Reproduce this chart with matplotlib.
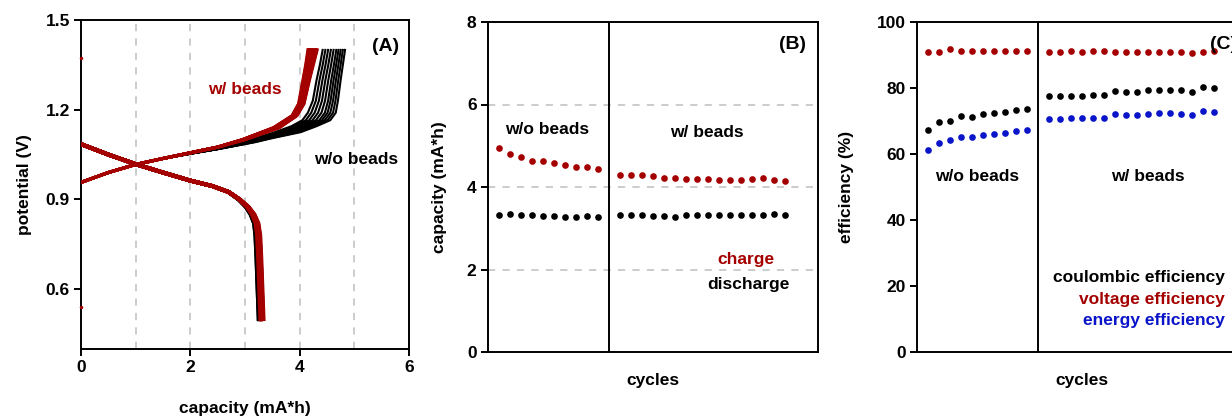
import matplotlib
matplotlib.use("Agg")
import matplotlib.pyplot as plt
import numpy as np

plt.rcParams['font.family'] = ['Liberation Sans', 'DejaVu Sans']
plt.rcParams['font.weight'] = 'bold'
plt.rcParams['axes.labelweight'] = 'bold'

RED = '#a50000'
BLUE = '#0a14c8'
GRID = '#c8c8c8'

# ---------------- Panel A data ----------------
# charge curves without beads: first (largest) and last (smallest) cycle profiles
chg_v_wo = [0.957, 0.99, 1.017, 1.036, 1.053, 1.068, 1.080, 1.092, 1.105, 1.125, 1.145, 1.165, 1.19, 1.23, 1.30, 1.35, 1.40]
chg_cap_wo_hi = [0, 0.5, 1.0, 1.5, 2.0, 2.5, 2.85, 3.2, 3.5, 4.02, 4.31, 4.56, 4.66, 4.70, 4.75, 4.79, 4.83]
chg_cap_wo_lo = [0, 0.5, 1.0, 1.5, 2.0, 2.45, 2.75, 2.95, 3.2, 3.55, 3.85, 4.05, 4.15, 4.24, 4.31, 4.37, 4.42]
# charge curves with beads
chg_v_w = [0.957, 0.99, 1.017, 1.037, 1.056, 1.075, 1.10, 1.14, 1.18, 1.22, 1.30, 1.35, 1.40]
chg_cap_w_hi = [0, 0.5, 1.0, 1.5, 2.0, 2.5, 3.0, 3.63, 3.95, 4.08, 4.18, 4.25, 4.32]
chg_cap_w_lo = [0, 0.5, 1.0, 1.5, 2.0, 2.5, 2.95, 3.52, 3.86, 3.98, 4.06, 4.11, 4.15]
# discharge profile (reference curve ending at 3.31 mA*h)
dis_cap = [0, 0.5, 1.0, 1.5, 2.0, 2.4, 2.7, 2.9, 3.05, 3.15, 3.22, 3.25, 3.27, 3.29, 3.31]
dis_v = [1.085, 1.05, 1.018, 0.99, 0.963, 0.945, 0.925, 0.90, 0.875, 0.85, 0.82, 0.78, 0.70, 0.60, 0.50]
dis_shift = [0, 0, 0, 0, 0, 0, 0.1, 0.3, 0.6, 0.8, 0.9, 1, 1, 1, 1]
# end capacities of each cycle seen in panel A
a_chg_end_wo = [4.83, 4.79, 4.75, 4.71, 4.67, 4.62, 4.57, 4.52, 4.47, 4.42]
a_chg_end_w = [4.32, 4.31, 4.30, 4.28, 4.27, 4.25, 4.24, 4.22, 4.21, 4.20, 4.19, 4.18, 4.17, 4.16, 4.15, 4.21]
a_dis_end_wo = [3.30, 3.33, 3.29, 3.29, 3.27, 3.28, 3.26, 3.25, 3.27, 3.25]
a_dis_end_w = [3.32, 3.32, 3.31, 3.30, 3.30, 3.28, 3.31, 3.31, 3.31, 3.31, 3.31, 3.32, 3.31, 3.33, 3.34, 3.32]
stray_v = [1.373, 0.54]

# ---------------- Panel B data ----------------
cyc_wo = list(range(1, 11))
cyc_w = list(range(12, 28))
charge_wo = [4.94, 4.79, 4.72, 4.63, 4.63, 4.57, 4.53, 4.49, 4.48, 4.44]
discharge_wo = [3.32, 3.35, 3.31, 3.31, 3.29, 3.30, 3.28, 3.27, 3.29, 3.27]
charge_w = [4.30, 4.29, 4.29, 4.26, 4.23, 4.22, 4.19, 4.19, 4.19, 4.17, 4.17, 4.17, 4.19, 4.21, 4.16, 4.15]
discharge_w = [3.32, 3.32, 3.31, 3.30, 3.30, 3.28, 3.31, 3.31, 3.31, 3.31, 3.31, 3.32, 3.31, 3.33, 3.34, 3.32]

# ---------------- Panel C data ----------------
volt_wo = [91.0, 91.0, 91.7, 91.3, 91.2, 91.2, 91.3, 91.3, 91.2, 91.2]
volt_w = [90.9, 90.9, 91.3, 91.0, 91.1, 91.2, 90.9, 91.0, 91.0, 91.0, 91.0, 90.9, 90.9, 90.7, 90.9, 91.1]
coul_wo = [67.3, 69.6, 70.0, 71.5, 71.3, 72.2, 72.3, 72.8, 73.4, 73.6]
coul_w = [77.5, 77.5, 77.5, 77.7, 78.0, 77.8, 79.2, 78.9, 78.9, 79.3, 79.5, 79.5, 79.3, 78.9, 80.2, 80.0]
energy_wo = [61.2, 63.4, 64.1, 65.3, 65.0, 65.9, 66.2, 66.5, 67.0, 67.2]
energy_w = [70.6, 70.6, 70.8, 70.8, 71.0, 71.0, 72.0, 71.9, 71.8, 72.1, 72.3, 72.3, 72.1, 71.7, 73.0, 72.8]

W, H = 1232, 420
fig = plt.figure(figsize=(W / 100, H / 100), dpi=100)

def ax_at(l, r, t, b):
    return fig.add_axes([l / W, (H - b) / H, (r - l) / W, (b - t) / H])

FS = 12.5

def style(ax):
    for s in ax.spines.values():
        s.set_linewidth(1.4)
    ax.tick_params(direction='out', width=1.4, length=5, labelsize=FS, pad=3)

# ---- A ----
axA = ax_at(81, 409, 20, 349)
style(axA)
axA.set_xlim(0, 6)
axA.set_ylim(0.4, 1.5)
axA.set_xticks([0, 2, 4, 6])
axA.set_yticks([0.6, 0.9, 1.2, 1.5])
axA.set_yticklabels(['0.6', '0.9', '1.2', '1.5'])
for gx in [1, 2, 3, 4, 5]:
    axA.axvline(gx, color=GRID, lw=1.3, ls=(0, (4, 4)), zorder=0)

def family(ends, lo, hi):
    lo = np.array(lo); hi = np.array(hi)
    e0, e1 = lo[-1], hi[-1]
    for e in ends:
        f = (e - e0) / (e1 - e0)
        yield lo + f * (hi - lo)

base_d = np.array(dis_cap); sh_d = np.array(dis_shift)
for caps in family(a_chg_end_wo, chg_cap_wo_lo, chg_cap_wo_hi):
    axA.plot(caps, chg_v_wo, color='black', lw=1.5, zorder=2)
for e in a_dis_end_wo:
    axA.plot(base_d + (e - dis_cap[-1]) * sh_d, dis_v, color='black', lw=2.8, zorder=2)
for caps in family(a_chg_end_w, chg_cap_w_lo, chg_cap_w_hi):
    axA.plot(caps, chg_v_w, color=RED, lw=2.2, zorder=3)
for e in a_dis_end_w:
    axA.plot(base_d + (e - dis_cap[-1]) * sh_d, dis_v, color=RED, lw=2.8, zorder=3)
axA.plot([0] * len(stray_v), stray_v, ls='none', marker='o', ms=1.5, color=RED, clip_on=False, zorder=4)

axA.text(5.57, 1.411, '(A)', ha='center', va='center', fontsize=14)
axA.text(3.0, 1.269, 'w/ beads', ha='center', va='center', fontsize=FS, color=RED)
axA.text(5.04, 1.033, 'w/o beads', ha='center', va='center', fontsize=FS, color='black')
axA.set_xlabel('capacity (mA*h)', fontsize=FS, labelpad=19)
axA.set_ylabel('potential (V)', fontsize=FS, labelpad=10)

# ---- B ----
axB = ax_at(487.7, 817.7, 22, 352)
style(axB)
axB.set_xlim(0, 30)
axB.set_ylim(0, 8)
axB.set_yticks([0, 2, 4, 6, 8])
axB.set_xticks([])
for gy in [2, 4, 6]:
    axB.axhline(gy, color=GRID, lw=1.3, ls=(0, (4, 4)), zorder=0)
axB.axvline(11, color='black', lw=1.4, zorder=1)
ms = 4.8
axB.plot(cyc_wo, charge_wo, ls='none', marker='o', ms=ms, color=RED, mec='none')
axB.plot(cyc_w, charge_w, ls='none', marker='o', ms=ms, color=RED, mec='none')
axB.plot(cyc_wo, discharge_wo, ls='none', marker='o', ms=ms, color='black', mec='none')
axB.plot(cyc_w, discharge_w, ls='none', marker='o', ms=ms, color='black', mec='none')
axB.text(5.4, 5.4, 'w/o beads', ha='center', va='center', fontsize=FS)
axB.text(19.9, 5.33, 'w/ beads', ha='center', va='center', fontsize=FS)
axB.text(27.7, 7.46, '(B)', ha='center', va='center', fontsize=14)
axB.text(23.5, 2.25, 'charge', ha='center', va='center', fontsize=FS, color=RED)
axB.text(23.7, 1.64, 'discharge', ha='center', va='center', fontsize=FS, color='black')
axB.set_xlabel('cycles', fontsize=FS, labelpad=15)
axB.set_ylabel('capacity (mA*h)', fontsize=FS, labelpad=14)

# ---- C ----
axC = ax_at(916.7, 1246.7, 22, 352)
style(axC)
axC.set_xlim(0, 30)
axC.set_ylim(0, 100)
axC.set_yticks([0, 20, 40, 60, 80, 100])
axC.set_xticks([])
axC.axvline(11, color='black', lw=1.4, zorder=1)
for xs, ys, c in [(cyc_wo, volt_wo, RED), (cyc_w, volt_w, RED),
                  (cyc_wo, coul_wo, 'black'), (cyc_w, coul_w, 'black'),
                  (cyc_wo, energy_wo, BLUE), (cyc_w, energy_w, BLUE)]:
    axC.plot(xs, ys, ls='none', marker='o', ms=ms, color=c, mec='none')
axC.text(5.5, 53.1, 'w/o beads', ha='center', va='center', fontsize=FS)
axC.text(21.0, 53.1, 'w/ beads', ha='center', va='center', fontsize=FS)
axC.text(26.7, 93.2, '(C)', ha='left', va='center', fontsize=14)
axC.text(28.0, 22.5, 'coulombic efficiency', ha='right', va='center', fontsize=FS, color='black')
axC.text(28.0, 16.0, 'voltage efficiency', ha='right', va='center', fontsize=FS, color=RED)
axC.text(28.0, 9.5, 'energy efficiency', ha='right', va='center', fontsize=FS, color=BLUE)
axC.set_xlabel('cycles', fontsize=FS, labelpad=15)
axC.set_ylabel('efficiency (%)', fontsize=FS, labelpad=16)

fig.savefig('out.png', dpi=100)
